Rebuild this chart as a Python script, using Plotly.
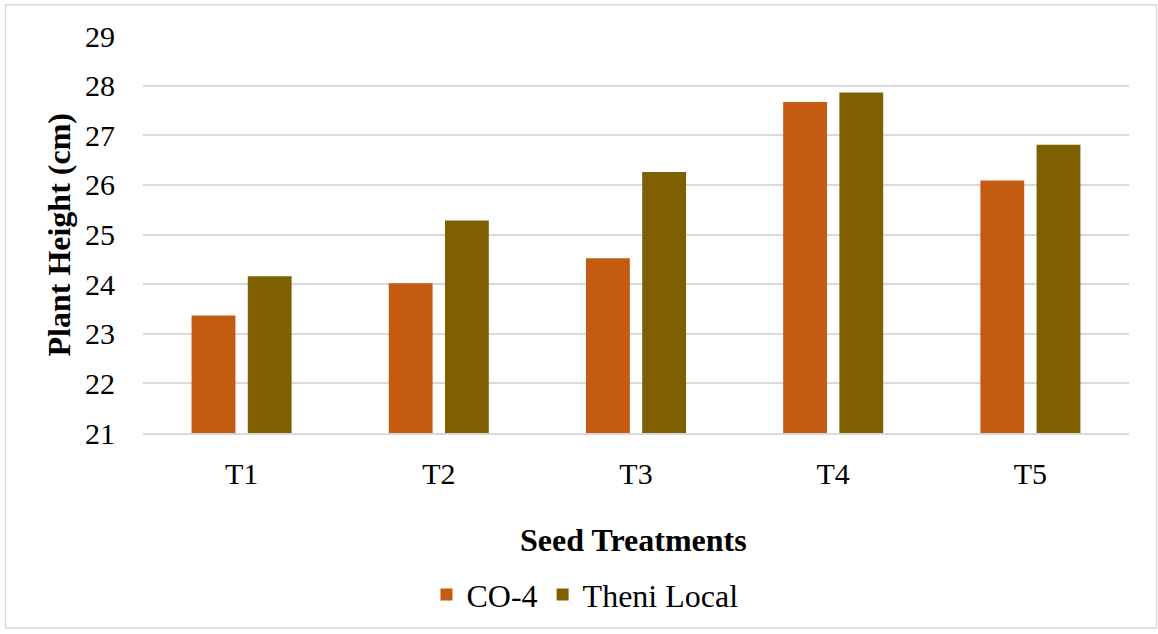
import plotly.graph_objects as go

# Plant height by seed treatment for two varieties
treatments = ["T1", "T2", "T3", "T4", "T5"]
co4_height = [23.37, 24.02, 24.52, 27.67, 26.09]
theni_height = [24.16, 25.28, 26.26, 27.86, 26.81]
y_ticks = [21, 22, 23, 24, 25, 26, 27, 28, 29]

W, H = 1158, 634
L, R, T, B = 143, 29, 36, 198
pw, ph = W - L - R, H - T - B

def px_x(x):
    return (x - L) / pw

def px_y(y):
    return (H - B - y) / ph

FONT = "Liberation Serif"

fig = go.Figure()
fig.add_trace(go.Bar(name="CO-4", x=treatments, y=co4_height,
                     marker=dict(color="#C55A11", line=dict(width=0))))
fig.add_trace(go.Bar(name="Theni Local", x=treatments, y=theni_height,
                     marker=dict(color="#7F6000", line=dict(width=0))))

fig.update_layout(
    width=W, height=H,
    margin=dict(l=L, r=R, t=T, b=B),
    paper_bgcolor="white", plot_bgcolor="white",
    barmode="group", bargap=0.43, bargroupgap=0.22,
    font=dict(family=FONT, color="black", size=30),
    showlegend=True,
    legend=dict(orientation="h", x=px_x(585), xanchor="center",
                y=px_y(599), yanchor="middle",
                font=dict(family=FONT, size=32, color="black"),
                itemwidth=30, tracegroupgap=0),
    xaxis=dict(showgrid=False, showline=True, linecolor="#d9d9d9", linewidth=1.5,
               ticks="", tickfont=dict(family=FONT, size=30), ticklabelstandoff=13),
    yaxis=dict(range=[21, 29], tickvals=y_ticks, showgrid=True,
               gridcolor="#d9d9d9", gridwidth=1.5, zeroline=False, showline=False,
               ticks="", tickfont=dict(family=FONT, size=30), ticklabelstandoff=27),
    annotations=[
        dict(text="<b>Seed Treatments</b>", xref="paper", yref="paper",
             x=px_x(633), y=px_y(544), xanchor="center", yanchor="middle",
             showarrow=False, font=dict(family=FONT, size=32, color="black")),
        dict(text="<b>Plant Height (cm)</b>", xref="paper", yref="paper",
             x=px_x(58), y=px_y(236), xanchor="center", yanchor="middle",
             textangle=-90, showarrow=False,
             font=dict(family=FONT, size=32, color="black")),
    ],
    shapes=[
        dict(type="rect", xref="paper", yref="paper",
             x0=px_x(5.5), x1=px_x(1156.5), y0=px_y(632.5), y1=px_y(4.5),
             line=dict(color="#d9d9d9", width=1.5), fillcolor="rgba(0,0,0,0)",
             layer="below"),
    ],
)

fig.write_html("out.html")
